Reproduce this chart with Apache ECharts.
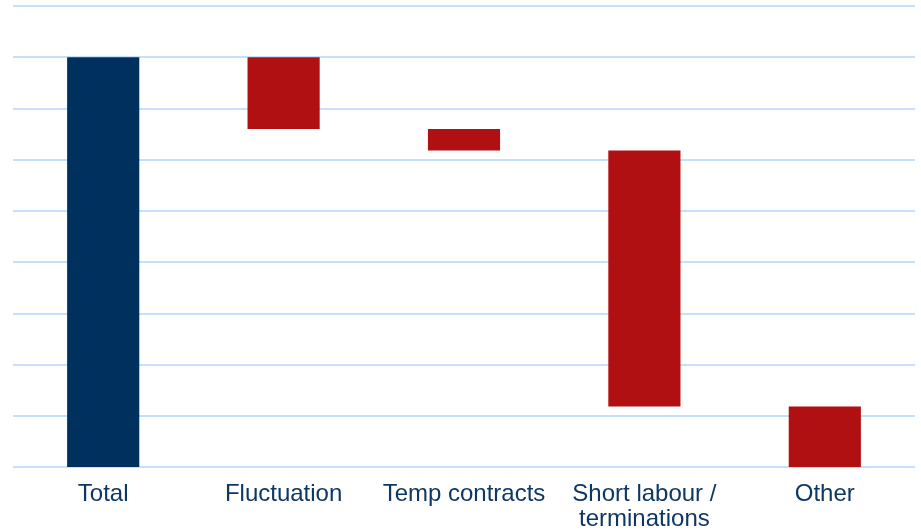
<!DOCTYPE html>
<html>
<head>
<meta charset="utf-8">
<script src="https://cdn.jsdelivr.net/npm/echarts@6/dist/echarts.min.js"></script>
<style>
html,body{margin:0;padding:0;background:#fff;}
#chart{width:921px;height:532px;}
</style>
</head>
<body>
<div id="chart"></div>
<script>
const categories = ['Total', 'Fluctuation', 'Temp contracts', 'Short labour /\nterminations', 'Other'];
const totalValue = 8.0;
const changes = [1.4, 0.42, 5.0, 1.18];
const yTicks = { min: 0, max: 9, interval: 1 };

// build waterfall: invisible base + visible bar
const base = [0];
const visible = [totalValue];
let level = totalValue;
for (const c of changes) {
  level -= c;
  base.push(level);
  visible.push(c);
}
const barColors = ['#00305e', '#b11013', '#b11013', '#b11013', '#b11013'];

const chart = echarts.init(document.getElementById('chart'));
chart.setOption({
  animation: false,
  grid: { left: 13, right: 6, top: 6, bottom: 63, containLabel: false },
  xAxis: {
    type: 'category',
    data: categories,
    axisLine: { show: false },
    axisTick: { show: false },
    axisLabel: {
      color: '#0e3763',
      fontFamily: 'Liberation Sans, Arial, sans-serif',
      fontSize: 24,
      margin: 15,
      lineHeight: 25,
      interval: 0
    }
  },
  yAxis: {
    type: 'value',
    min: yTicks.min, max: yTicks.max, interval: yTicks.interval,
    axisLabel: { show: false },
    axisLine: { show: false },
    axisTick: { show: false },
    splitLine: { lineStyle: { color: '#c5e0fa', width: 2 } }
  },
  series: [
    {
      type: 'bar', stack: 'w', data: base,
      itemStyle: { color: 'transparent' },
      barWidth: '40%', silent: true
    },
    {
      type: 'bar', stack: 'w',
      data: visible.map((v, i) => ({ value: v, itemStyle: { color: barColors[i] } })),
      barWidth: '40%'
    }
  ]
});
</script>
</body>
</html>
